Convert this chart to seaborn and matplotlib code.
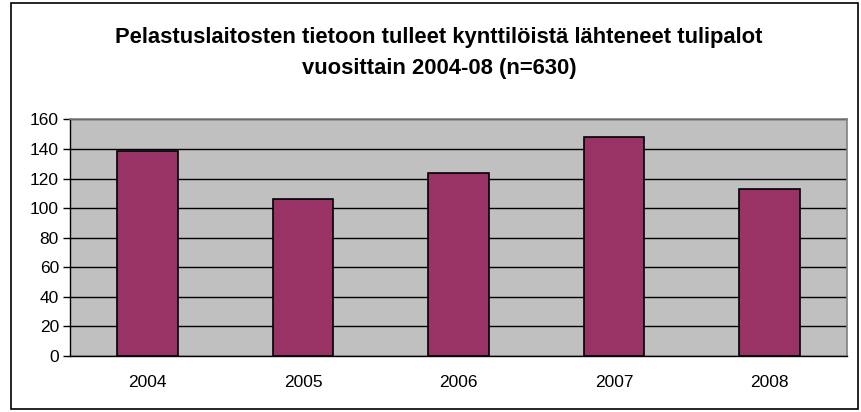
import numpy as np
import matplotlib.pyplot as plt
import pandas as pd
import seaborn as sns
from matplotlib.patches import Rectangle

vuodet = ["2004", "2005", "2006", "2007", "2008"]
tulipalot = [139, 106, 124, 148, 113]
otsikko = "Pelastuslaitosten tietoon tulleet kynttilöistä lähteneet tulipalot\nvuosittain 2004-08 (n=630)"

df = pd.DataFrame({"vuosi": vuodet, "tulipalot": tulipalot})

sns.set_style("white")
plt.rcParams['font.family'] = ['Liberation Sans', 'DejaVu Sans']
plt.rcParams['text.color'] = "black"
plt.rcParams['xtick.color'] = "black"
plt.rcParams['ytick.color'] = "black"

fig = plt.figure(figsize=(8.62, 4.12), dpi=100)
ax = fig.add_axes([70/862, 56/412, 777/862, 236.5/412])
ax.set_facecolor("#C0C0C0")

sns.barplot(x="vuosi", y="tulipalot", data=df, color="#993366", saturation=1,
            width=0.39, edgecolor="black", linewidth=1.2, ax=ax, zorder=3)

ax.set_ylim(0, 160)
ax.set_xlim(-0.5, 4.5)
ax.set_yticks(np.arange(0, 161, 20))
ax.yaxis.grid(True, color="black", linewidth=1, zorder=1)
ax.set_axisbelow(True)
ax.set_xlabel("")
ax.set_ylabel("")

# tick marks between categories, labels centred under bars
ax.set_xticks(np.arange(-0.5, 4.6, 1), minor=True)
ax.tick_params(axis="x", which="major", length=0, pad=14, labelsize=12.5)
ax.tick_params(axis="x", which="minor", length=5, direction="out", color="black", width=1)
ax.tick_params(axis="y", length=5, direction="out", color="black", width=1, labelsize=12.5, pad=3, left=True)

for s in ["left", "bottom"]:
    ax.spines[s].set_color("black")
    ax.spines[s].set_linewidth(1)
for s in ["top", "right"]:
    ax.spines[s].set_color("#808080")
    ax.spines[s].set_linewidth(1.2)

fig.text(439/862, 1 - 53/412, otsikko, ha="center", va="center",
         fontsize=15.8, fontweight="bold", linespacing=1.65)

fig.patches.append(Rectangle((11/862, 3/412), 847/862, 406/412, transform=fig.transFigure,
                             fill=False, edgecolor="black", linewidth=1.2))

fig.savefig("out.png", dpi=100)
